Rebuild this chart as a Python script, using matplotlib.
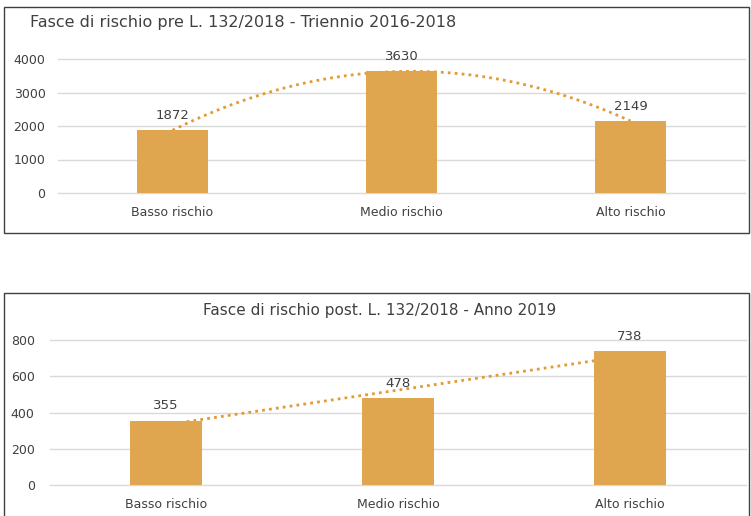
#!/usr/bin/env python3

import numpy as np
import matplotlib
matplotlib.use('Agg')
import matplotlib.pyplot as plt
from matplotlib.patches import Rectangle

categories = ['Basso rischio', 'Medio rischio', 'Alto rischio']
values_pre = [1872, 3630, 2149]
values_post = [355, 478, 738]
title_pre = 'Fasce di rischio pre L. 132/2018 - Triennio 2016-2018'
title_post = 'Fasce di rischio post. L. 132/2018 - Anno 2019'
yticks_pre = [0, 1000, 2000, 3000, 4000]
yticks_post = [0, 200, 400, 600, 800]

bar_colour = '#DFA64F'
trend_colour = '#E39A35'
text_colour = '#404040'
grid_colour = '#D9D9D9'

W, H = 751, 516
fig = plt.figure(figsize=(W / 100, H / 100), dpi=100)
plt.rcParams['font.family'] = ['DejaVu Sans']


def px_axes(left, top, right, bottom):
	return fig.add_axes([left / W, 1 - bottom / H, (right - left) / W, (bottom - top) / H])


def box(left, top, right, bottom):
	fig.patches.append(Rectangle((left / W, 1 - bottom / H), (right - left) / W, (bottom - top) / H,
		transform=fig.transFigure, fill=False, edgecolor='#404040', linewidth=1.0))


def draw(ax, values, yticks, order, ypad):
	x = np.arange(len(categories))
	ax.bar(x, values, width=0.31, color=bar_colour, zorder=2)
	ax.set_xlim(-0.5, len(categories) - 0.5)
	ax.set_ylim(yticks[0], yticks[-1])
	ax.set_yticks(yticks)
	ax.yaxis.grid(True, color=grid_colour, linewidth=1.0, zorder=0, clip_on=False)
	ax.set_axisbelow(True)
	for s in ax.spines.values():
		s.set_visible(False)
	ax.tick_params(length=0, labelsize=9, colors=text_colour)
	ax.tick_params(axis='y', pad=ypad)
	ax.tick_params(axis='x', pad=9)
	ax.set_xticks(x)
	ax.set_xticklabels(categories)
	ax.yaxis.set_major_formatter(matplotlib.ticker.FuncFormatter(lambda v, p: '%d' % v))
	for xi, v in zip(x, values):
		ax.annotate(str(v), (xi, v), xytext=(0, 6), textcoords='offset points',
			ha='center', va='bottom', fontsize=9.5, color=text_colour, zorder=4)
	# trendline as in the spreadsheet, sits behind the bars
	coef = np.polyfit(x, values, order)
	xs = np.linspace(0, len(categories) - 1, 200)
	ax.plot(xs, np.polyval(coef, xs), linestyle=(0, (1, 1.5)), color=trend_colour,
		linewidth=2.0, zorder=1.5, clip_on=False)
	ax.patch.set_alpha(0)


ax1 = px_axes(58, 59, 745, 193)
draw(ax1, values_pre, yticks_pre, 2, 9)
box(4, 7, 749, 233)
fig.text(30 / W, 1 - 23 / H, title_pre, ha='left', va='center', fontsize=11.5, color=text_colour)

ax2 = px_axes(50, 340, 746, 485)
draw(ax2, values_post, yticks_post, 1, 11)
box(4, 293, 749, 530)
fig.text(380 / W, 1 - 311 / H, title_post, ha='center', va='center', fontsize=11, color=text_colour)

fig.savefig('out.png', dpi=100)
